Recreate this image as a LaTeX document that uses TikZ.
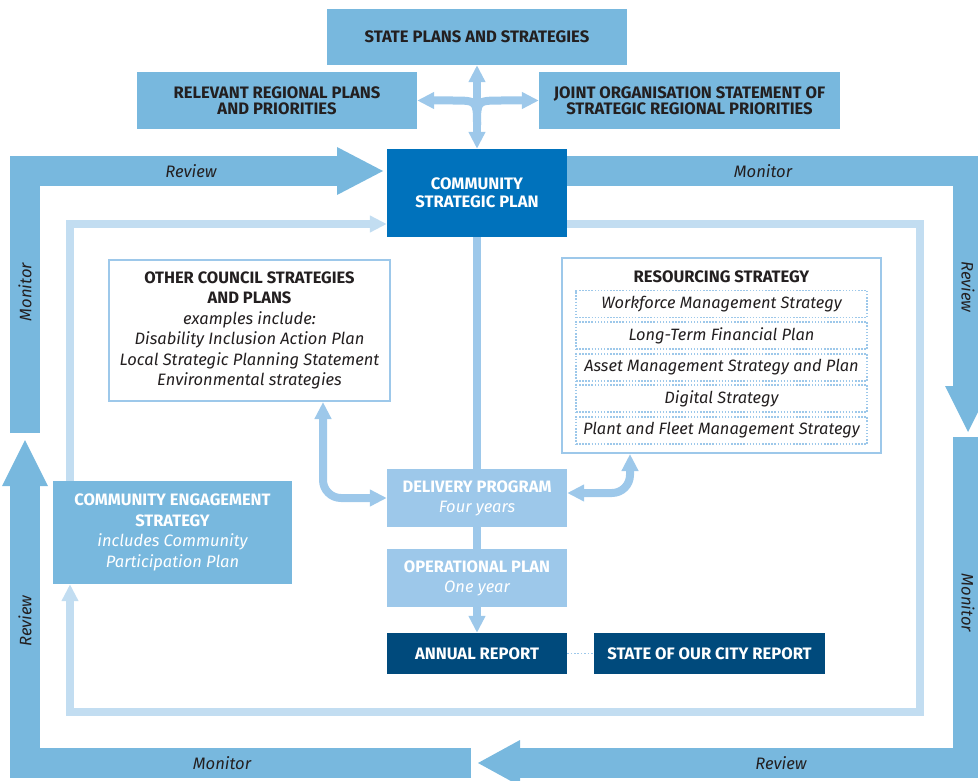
\documentclass[tikz,border=0pt]{standalone}
\usepackage{fontspec}
\setmainfont{Fira Sans}
\usetikzlibrary{arrows.meta}
\definecolor{outerb}{HTML}{78B8DE}
\definecolor{cspb}{HTML}{0072BC}
\definecolor{lightb}{HTML}{9DC8EA}
\definecolor{ringb}{HTML}{C2DDF1}
\definecolor{navy}{HTML}{004A7C}
\definecolor{txt}{HTML}{231F20}
\begin{document}
\begin{tikzpicture}[x=1pt,y=-1pt,
  >={Triangle[length=17pt,width=16pt]},
  band/.style={outerb, line width=30pt, line join=miter},
  ring/.style={ringb, line width=8pt, line join=miter},
  conn/.style={lightb, line width=8pt},
  box/.style={inner sep=0pt, align=center},
  bf/.style={font=\fontsize{16.6}{18}\selectfont\bfseries},
  lab/.style={font=\fontsize{16.6}{18}\selectfont\itshape, text=txt},
  rowbox/.style={draw=lightb, line width=1.5pt, dash pattern=on 1.5pt off 1.6pt, minimum width=291pt, minimum height=27pt, inner sep=0pt, font=\fontsize{16.4}{18}\selectfont\itshape, text=txt}
]
\useasboundingbox (0,0) rectangle (978,781);

% outer bands
\draw[band] (25,433) -- (25,171) -- (337,171);
\fill[outerb] (337,147) -- (383,171) -- (337,195) -- cycle;
\draw[band] (566,171) -- (968,171) -- (968,386);
\fill[outerb] (945,386) -- (968,432) -- (991,386) -- cycle;
\draw[band] (968,437) -- (968,763) -- (520,763);
\fill[outerb] (520,740) -- (478,763) -- (520,786) -- cycle;
\draw[band] (471,763) -- (25,763) -- (25,486);
\fill[outerb] (2,486) -- (25,440) -- (48,486) -- cycle;

\node[lab] (l1) at (191,171) {Review};
\node[lab] (l2) at (763,171) {Monitor};
\node[lab,rotate=90] (l3) at (25,292) {Monitor};
\node[lab,rotate=-90] (l4) at (968,287) {Review};
\node[lab,rotate=90] (l5) at (25,621) {Review};
\node[lab,rotate=-90] (l6) at (968,603) {Monitor};
\node[lab] (l7) at (222,763) {Monitor};
\node[lab] (l8) at (781,763) {Review};

% boxes
\node[box, bf, fill=outerb, text=txt, minimum width=300pt, minimum height=56pt] (state) at (477,37) {STATE PLANS AND STRATEGIES};
\node[box, fill=outerb, text=txt, minimum width=280pt, minimum height=57pt, font=\fontsize{16.6}{16}\selectfont\bfseries] (rr) at (277,100.5) {RELEVANT REGIONAL PLANS\\AND PRIORITIES};
\node[box, fill=outerb, text=txt, minimum width=301pt, minimum height=57pt, font=\fontsize{16.6}{16}\selectfont\bfseries] (jo) at (689.5,100.5) {JOINT ORGANISATION STATEMENT OF\\STRATEGIC REGIONAL PRIORITIES};
\node[box, fill=cspb, text=white, minimum width=180pt, minimum height=88pt, font=\fontsize{16.6}{18}\selectfont\bfseries] (csp) at (477,193) {COMMUNITY\\STRATEGIC PLAN};

\node[box, draw=lightb, line width=2pt, fill=white, text=txt, minimum width=281pt, minimum height=141pt, font=\fontsize{16.5}{20.4}\selectfont] (ocs) at (249.5,330.5)
  {\bfseries OTHER COUNCIL STRATEGIES\\\bfseries AND PLANS\\\itshape examples include:\\\itshape Disability Inclusion Action Plan\\\itshape Local Strategic Planning Statement\\\itshape Environmental strategies};

\node[box, draw=lightb, line width=2pt, fill=white, minimum width=319pt, minimum height=195pt] (rs) at (721.5,355.5) {};
\node[box, bf, text=txt] (rst) at (721.5,276.5) {RESOURCING STRATEGY};
\node[rowbox] (r1) at (721.5,304) {Workforce Management Strategy};
\node[rowbox] (r2) at (721.5,335.5) {Long-Term Financial Plan};
\node[rowbox] (r3) at (721.5,367.5) {Asset Management Strategy and Plan};
\node[rowbox] (r4) at (721.5,398.5) {Digital Strategy};
\node[rowbox] (r5) at (721.5,430.5) {Plant and Fleet Management Strategy};

\node[box, fill=outerb, text=white, minimum width=239pt, minimum height=103pt, font=\fontsize{16.5}{20.4}\selectfont] (ces) at (172.5,532.5)
  {\bfseries COMMUNITY ENGAGEMENT\\\bfseries STRATEGY\\\itshape includes Community\\\itshape Participation Plan};

\node[box, fill=lightb, text=white, minimum width=180pt, minimum height=58pt, font=\fontsize{16.5}{20}\selectfont] (dp) at (477,498) {\bfseries DELIVERY PROGRAM\\\itshape Four years};
\node[box, fill=lightb, text=white, minimum width=180pt, minimum height=58pt, font=\fontsize{16.5}{20}\selectfont] (op) at (477,578) {\bfseries OPERATIONAL PLAN\\\itshape One year};
\node[box, bf, fill=navy, text=white, minimum width=180pt, minimum height=41pt] (ar) at (477,653.5) {ANNUAL REPORT};
\node[box, bf, fill=navy, text=white, minimum width=231pt, minimum height=41pt] (soc) at (709.5,653.5) {STATE OF OUR CITY REPORT};

% inner ring
\coordinate (ringTL) at (70,224);
\coordinate (ringTR) at (920,224);
\coordinate (ringBR) at (920,712);
\coordinate (ringBL) at (70,712);
\draw[ring,->] (ces.north -| ringTL) -- (ringTL) -- (csp.west |- ringTL);
\draw[ring,->] (csp.east |- ringTR) -- (ringTR) -- (ringBR) -- (ringBL) -- (ces.south -| ringBL);

% connectors
\draw[conn,<->] (state.south) -- (csp.north);
\draw[conn,<-] (rr.east) -- (452,100.5) .. controls (477,100.5) .. (477,125);
\draw[conn,<-] (jo.west) -- (502,100.5) .. controls (477,100.5) .. (477,125);
\draw[conn] (csp.south) -- (dp.north);
\draw[conn] (dp.south) -- (op.north);
\draw[conn,->] (op.south) -- (ar.north);
\coordinate (lx) at (323,0);
\coordinate (rx) at (630,0);
\draw[conn,<->,rounded corners=18pt] (ocs.south -| lx) |- (dp.west);
\draw[conn,<->,rounded corners=18pt] ([yshift=5pt]dp.east) -| (rs.south -| rx);
\draw[lightb, line width=1.8pt, dash pattern=on 1.6pt off 1.8pt] (ar.east) -- (soc.west);
\end{tikzpicture}
\end{document}
